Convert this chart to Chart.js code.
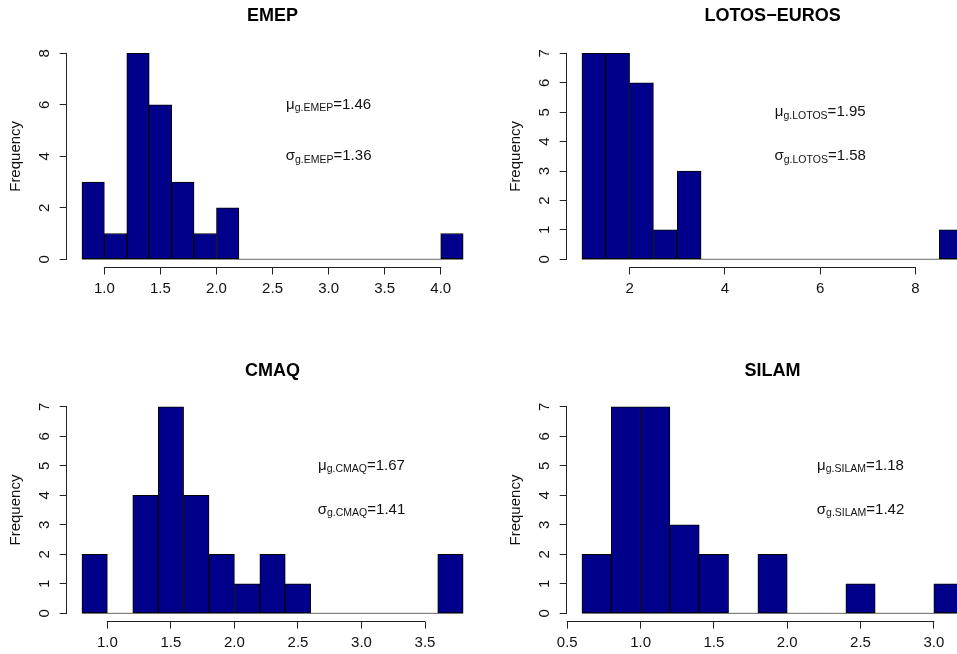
<!DOCTYPE html>
<html>
<head>
<meta charset="utf-8">
<script src="https://cdn.jsdelivr.net/npm/chart.js@4"></script>
<style>
  html, body { margin: 0; padding: 0; background: #fff; overflow: hidden; width: 957px; height: 654px; }
  canvas { position: absolute; }
</style>
</head>
<body>
<canvas id="emep" width="500" height="301" style="left:0px;top:0px"></canvas>
<canvas id="lotos" width="500" height="301" style="left:500px;top:0px"></canvas>
<canvas id="cmaq" width="500" height="301" style="left:0px;top:353px"></canvas>
<canvas id="silam" width="500" height="301" style="left:500px;top:353px"></canvas>
<script>
// histogram breaks + counts
const emepBreaks = [0.8, 1.0, 1.2, 1.4, 1.6, 1.8, 2.0, 2.2, 2.4, 2.6, 2.8, 3.0, 3.2, 3.4, 3.6, 3.8, 4.0, 4.2];
const emepCounts = [3, 1, 8, 6, 3, 1, 2, 0, 0, 0, 0, 0, 0, 0, 0, 0, 1];
const emepXTicks = ["1.0", "1.5", "2.0", "2.5", "3.0", "3.5", "4.0"];
const emepYTicks = [0, 2, 4, 6, 8];
const emepStats = ["1.46", "1.36"];

const lotosBreaks = [1.0, 1.5, 2.0, 2.5, 3.0, 3.5, 4.0, 4.5, 5.0, 5.5, 6.0, 6.5, 7.0, 7.5, 8.0, 8.5, 9.0];
const lotosCounts = [7, 7, 6, 1, 3, 0, 0, 0, 0, 0, 0, 0, 0, 0, 0, 1];
const lotosXTicks = ["2", "4", "6", "8"];
const lotosYTicks = [0, 1, 2, 3, 4, 5, 6, 7];
const lotosStats = ["1.95", "1.58"];

const cmaqBreaks = [0.8, 1.0, 1.2, 1.4, 1.6, 1.8, 2.0, 2.2, 2.4, 2.6, 2.8, 3.0, 3.2, 3.4, 3.6, 3.8];
const cmaqCounts = [2, 0, 4, 7, 4, 2, 1, 2, 1, 0, 0, 0, 0, 0, 2];
const cmaqXTicks = ["1.0", "1.5", "2.0", "2.5", "3.0", "3.5"];
const cmaqYTicks = [0, 1, 2, 3, 4, 5, 6, 7];
const cmaqStats = ["1.67", "1.41"];

const silamBreaks = [0.6, 0.8, 1.0, 1.2, 1.4, 1.6, 1.8, 2.0, 2.2, 2.4, 2.6, 2.8, 3.0, 3.2];
const silamCounts = [2, 7, 7, 3, 2, 0, 2, 0, 0, 1, 0, 0, 1];
const silamXTicks = ["0.5", "1.0", "1.5", "2.0", "2.5", "3.0"];
const silamYTicks = [0, 1, 2, 3, 4, 5, 6, 7];
const silamStats = ["1.18", "1.42"];

const FONT = '"Liberation Sans", Arial, Helvetica, sans-serif';
const INK = '#111';

// R-style detached axes, rotated y labels and the mu/sigma notes
const rAxes = {
  id: 'rAxes',
  afterDraw(chart, args, opts) {
    const { ctx, chartArea } = chart;
    const xs = chart.scales.x, ys = chart.scales.y;
    const xt = xs.ticks, yt = ys.ticks;
    ctx.save();
    ctx.strokeStyle = '#222';
    ctx.lineWidth = 1;
    const ax = Math.round(chartArea.left - 0.5) + 0.5;
    const ay = Math.round(chartArea.bottom - 0.5) + 0.5;
    ctx.beginPath();
    ctx.moveTo(ax, ys.getPixelForValue(yt[0].value) + 0.5);
    ctx.lineTo(ax, ys.getPixelForValue(yt[yt.length - 1].value) - 0.5);
    ctx.moveTo(xs.getPixelForValue(xt[0].value) - 0.5, ay);
    ctx.lineTo(xs.getPixelForValue(xt[xt.length - 1].value) + 0.5, ay);
    ctx.stroke();

    ctx.fillStyle = INK;
    ctx.font = '15px ' + FONT;
    ctx.textAlign = 'center';
    ctx.textBaseline = 'middle';
    yt.forEach(t => {
      ctx.save();
      ctx.translate(opts.labelX, ys.getPixelForValue(t.value));
      ctx.rotate(-Math.PI / 2);
      ctx.fillText(String(t.value), 0, 0);
      ctx.restore();
    });

    ctx.textAlign = 'left';
    ctx.textBaseline = 'alphabetic';
    opts.notes.forEach(n => {
      const main = '15px ' + FONT, small = '10.5px ' + FONT;
      ctx.font = main;
      const w1 = ctx.measureText(n.sym).width;
      const w3 = ctx.measureText(n.val).width;
      ctx.font = small;
      const w2 = ctx.measureText(n.sub).width;
      let x = xs.getPixelForValue(n.x) - (w1 + w2 + w3) / 2;
      const base = ys.getPixelForValue(n.y) + 5.4 - 1.5;
      ctx.font = main;
      ctx.fillText(n.sym, x, base);
      x += w1;
      ctx.font = small;
      ctx.fillText(n.sub, x, base + 2.5);
      x += w2;
      ctx.font = main;
      ctx.fillText(n.val, x, base);
    });
    ctx.restore();
  }
};

function histogram(id, title, breaks, counts, xTicks, yTicks, xRange, yRange, tag, stats, noteX, noteY, row) {
  const bars = counts.map((c, i) => ({ x: (breaks[i] + breaks[i + 1]) / 2, y: c }));
  const base = [{ x: breaks[0], y: 0 }, { x: breaks[breaks.length - 1], y: 0 }];
  const areaTop = row === 0 ? 45.2 : 45.5;
  const areaBottom = row === 0 ? 267.5 : 268.6;
  const titleTop = row === 0 ? 5.5 : 6.9;

  new Chart(document.getElementById(id), {
    type: 'bar',
    data: {
      datasets: [
        {
          data: bars,
          backgroundColor: '#00008B',
          borderColor: '#000',
          borderWidth: 1,
          borderSkipped: false,
          barPercentage: 1,
          categoryPercentage: 1,
          order: 0
        },
        {
          type: 'line',
          data: base,
          borderColor: '#666',
          borderWidth: 1,
          pointRadius: 0,
          order: 1
        }
      ]
    },
    options: {
      responsive: false,
      animation: false,
      devicePixelRatio: 1,
      layout: { padding: { left: 0, top: 0, right: 21.6, bottom: 0 } },
      plugins: {
        legend: { display: false },
        tooltip: { enabled: false },
        title: {
          display: true,
          text: title,
          fullSize: false,
          color: '#000',
          font: { family: FONT, size: 18, weight: 'bold', lineHeight: 1.2 },
          padding: { top: titleTop, bottom: areaTop - 21.6 - titleTop }
        },
        rAxes: {
          labelX: 45,
          notes: [
            { sym: 'μ', sub: 'g.' + tag, val: '=' + stats[0], x: noteX, y: noteY[0] },
            { sym: 'σ', sub: 'g.' + tag, val: '=' + stats[1], x: noteX, y: noteY[1] }
          ]
        }
      },
      scales: {
        x: {
          type: 'linear',
          position: 'bottom',
          offset: false,
          min: xRange[0],
          max: xRange[1],
          afterBuildTicks: s => { s.ticks = xTicks.map(v => ({ value: parseFloat(v) })); },
          afterFit: s => { s.height = 301 - areaBottom; },
          border: { display: false },
          grid: { offset: false, drawOnChartArea: false, drawTicks: true, tickLength: 7, color: '#222' },
          ticks: {
            autoSkip: false,
            maxRotation: 0,
            padding: 5,
            color: INK,
            font: { family: FONT, size: 15 },
            callback: (v, i) => xTicks[i]
          }
        },
        y: {
          position: 'left',
          min: yRange[0],
          max: yRange[1],
          afterBuildTicks: s => { s.ticks = yTicks.map(v => ({ value: v })); },
          afterFit: s => { s.width = 66.7; },
          border: { display: false },
          grid: { drawOnChartArea: false, drawTicks: true, tickLength: 7, color: '#222' },
          ticks: { display: false },
          title: {
            display: true,
            text: 'Frequency',
            color: INK,
            font: { family: FONT, size: 15 },
            padding: { top: 6.5, bottom: 0 }
          }
        }
      }
    },
    plugins: [rAxes]
  });
}

histogram('emep', 'EMEP', emepBreaks, emepCounts, emepXTicks, emepYTicks,
  [0.664, 4.336], [-0.32, 8.32], 'EMEP', emepStats, 3, [6, 4], 0);
histogram('lotos', 'LOTOS\u2212EUROS', lotosBreaks, lotosCounts, lotosXTicks, lotosYTicks,
  [0.68, 9.32], [-0.28, 7.28], 'LOTOS', lotosStats, 6, [5, 3.5], 0);
histogram('cmaq', 'CMAQ', cmaqBreaks, cmaqCounts, cmaqXTicks, cmaqYTicks,
  [0.68, 3.92], [-0.28, 7.28], 'CMAQ', cmaqStats, 3, [5, 3.5], 1);
histogram('silam', 'SILAM', silamBreaks, silamCounts, silamXTicks, silamYTicks,
  [0.496, 3.304], [-0.28, 7.28], 'SILAM', silamStats, 2.5, [5, 3.5], 1);
</script>
</body>
</html>
